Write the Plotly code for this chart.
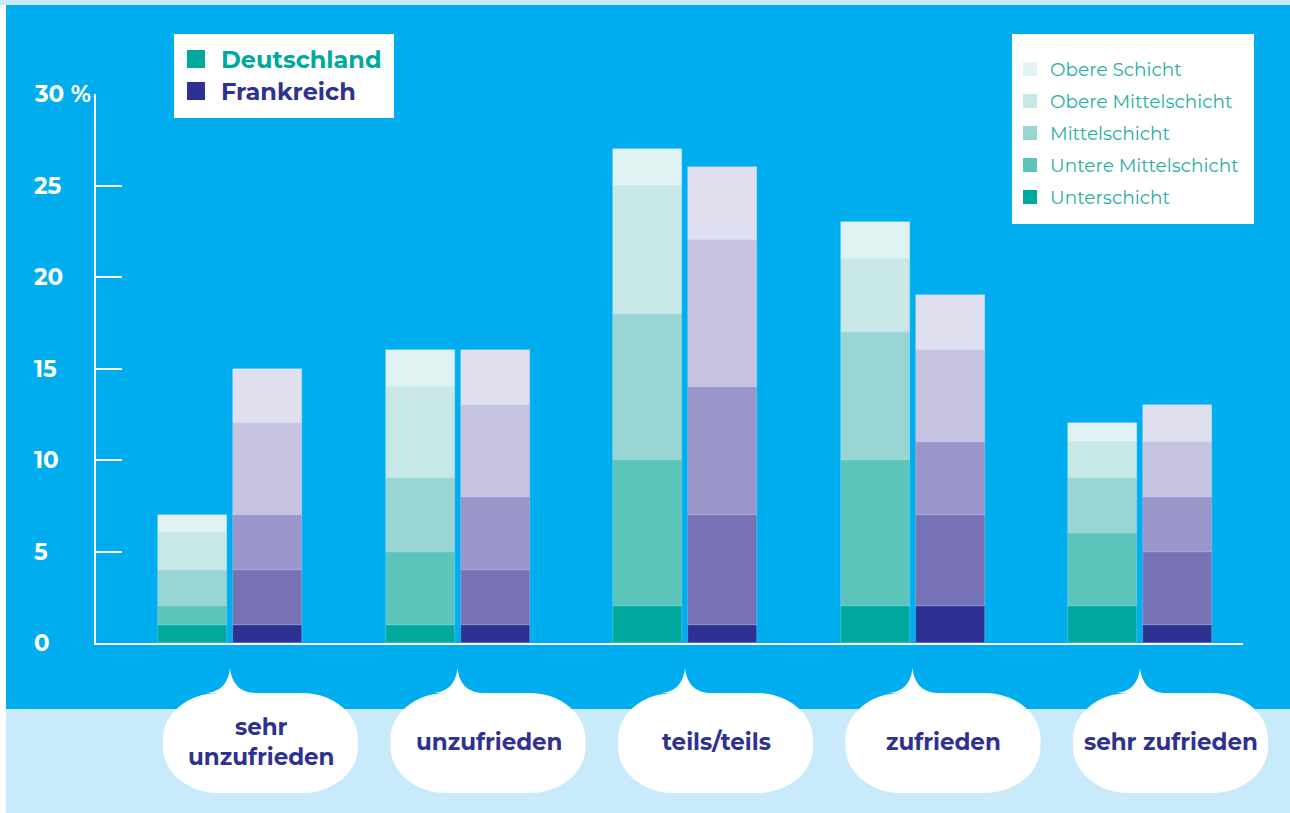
import plotly.graph_objects as go

# ---------------- data ----------------
categories = ["sehr<br>unzufrieden", "unzufrieden", "teils/teils", "zufrieden", "sehr zufrieden"]
classes = ["Unterschicht", "Untere Mittelschicht", "Mittelschicht", "Obere Mittelschicht", "Obere Schicht"]
countries = ["Deutschland", "Frankreich"]

de_unter = [1, 1, 2, 2, 2]
de_untere_mittel = [1, 4, 8, 8, 4]
de_mittel = [2, 4, 8, 7, 3]
de_obere_mittel = [2, 5, 7, 4, 2]
de_obere = [1, 2, 2, 2, 1]

fr_unter = [1, 1, 1, 2, 1]
fr_untere_mittel = [3, 3, 6, 5, 4]
fr_mittel = [3, 4, 7, 4, 3]
fr_obere_mittel = [5, 5, 8, 5, 3]
fr_obere = [3, 3, 4, 3, 2]

y_ticks = [0, 5, 10, 15, 20, 25, 30]
y_tick_labels = ["0", "5", "10", "15", "20", "25", "30 %"]

de_colors = ["#00a99d", "#5bc5bc", "#99d5d3", "#c8e8e7", "#e1f2f2"]
fr_colors = ["#2e3192", "#7672b5", "#9b96c9", "#c6c3e1", "#e0dff0"]
country_colors = ["#00a99d", "#2e3192"]

# ---------------- layout geometry ----------------
W, H = 1290, 813
PX0, PX1, PY0, PY1 = 96, 1243, 94, 643   # plot area in pixels
GROUP_PX = 227.5
XMIN = -(230 - PX0) / GROUP_PX
XMAX = XMIN + (PX1 - PX0) / GROUP_PX
BAR_W = 69 / GROUP_PX
OFF = 37.5 / GROUP_PX

def pxp(x):  # pixel x -> paper
    return (x - PX0) / (PX1 - PX0)

def pyp(y):  # pixel y -> paper
    return (PY1 - y) / (PY1 - PY0)

def dxp(v):  # data x -> paper
    return (v - XMIN) / (XMAX - XMIN)

FONT = "Montserrat, Inter, 'Open Sans', sans-serif"
BLUE = "#00aeef"
LIGHT = "#c8eafa"
NAVY = "#2e3192"

fig = go.Figure()

idx = list(range(len(categories)))
de_series = [de_unter, de_untere_mittel, de_mittel, de_obere_mittel, de_obere]
fr_series = [fr_unter, fr_untere_mittel, fr_mittel, fr_obere_mittel, fr_obere]

for name, vals, col in zip(classes, de_series, de_colors):
    fig.add_trace(go.Bar(
        x=[i - OFF for i in idx], y=vals, width=BAR_W, name=name,
        marker=dict(color=col, line=dict(width=0.6, color="rgba(255,255,255,0.35)")),
        showlegend=False, hovertemplate=name + " (DE): %{y} %<extra></extra>"))
for name, vals, col in zip(classes, fr_series, fr_colors):
    fig.add_trace(go.Bar(
        x=[i + OFF for i in idx], y=vals, width=BAR_W, name=name,
        marker=dict(color=col, line=dict(width=0.6, color="rgba(255,255,255,0.35)")),
        showlegend=False, hovertemplate=name + " (FR): %{y} %<extra></extra>"))

shapes = []
annotations = []

# backgrounds
shapes.append(dict(type="rect", xref="paper", yref="paper", layer="below",
                   x0=pxp(0), x1=pxp(W), y0=pyp(0), y1=pyp(5), fillcolor=LIGHT, line_width=0))
shapes.append(dict(type="rect", xref="paper", yref="paper", layer="below",
                   x0=pxp(6), x1=pxp(W), y0=pyp(5), y1=pyp(709), fillcolor=BLUE, line_width=0))
shapes.append(dict(type="rect", xref="paper", yref="paper", layer="below",
                   x0=pxp(6), x1=pxp(W), y0=pyp(709), y1=pyp(H), fillcolor=LIGHT, line_width=0))

# y tick labels (left aligned)
for v, lab in zip(y_ticks, y_tick_labels):
    annotations.append(dict(x=pxp(32), y=v, xref="paper", yref="y", text=lab,
                            showarrow=False, xanchor="left", yanchor="middle",
                            font=dict(family=FONT, size=23, color="white", weight="bold")))

# category bubbles (pixel geometry relative to the group centre, converted to paper)
def bubble_path(i):
    cp = PX0 + (i - XMIN) * GROUP_PX      # group centre in pixels
    X = lambda px: pxp(px)
    Y = lambda py: pyp(py)
    L, R = cp - 67, cp + 128
    T, B = 693, 793
    rx, ry = 56, 46
    k = 0.5523
    p = []
    p.append(f"M{X(L + rx)},{Y(T)}")
    p.append(f"L{X(cp - 27)},{Y(T)}")
    p.append(f"C{X(cp - 12)},{Y(T)} {X(cp - 2)},{Y(686)} {X(cp)},{Y(668)}")
    p.append(f"C{X(cp + 2)},{Y(686)} {X(cp + 12)},{Y(T)} {X(cp + 27)},{Y(T)}")
    p.append(f"L{X(R - rx)},{Y(T)}")
    p.append(f"C{X(R - rx + k * rx)},{Y(T)} {X(R)},{Y(T + ry - k * ry)} {X(R)},{Y(T + ry)}")
    p.append(f"L{X(R)},{Y(B - ry)}")
    p.append(f"C{X(R)},{Y(B - ry + k * ry)} {X(R - rx + k * rx)},{Y(B)} {X(R - rx)},{Y(B)}")
    p.append(f"L{X(L + rx)},{Y(B)}")
    p.append(f"C{X(L + rx - k * rx)},{Y(B)} {X(L)},{Y(B - ry + k * ry)} {X(L)},{Y(B - ry)}")
    p.append(f"L{X(L)},{Y(T + ry)}")
    p.append(f"C{X(L)},{Y(T + ry - k * ry)} {X(L + rx - k * rx)},{Y(T)} {X(L + rx)},{Y(T)}")
    p.append("Z")
    return " ".join(p)

for i, cat in enumerate(categories):
    shapes.append(dict(type="path", xref="paper", yref="paper", path=bubble_path(i),
                       fillcolor="white", line_width=0, layer="above"))
    annotations.append(dict(x=dxp(i + 31 / GROUP_PX), y=pyp(742), xref="paper", yref="paper",
                            text=cat, showarrow=False, xanchor="center", yanchor="middle",
                            font=dict(family=FONT, size=23, color=NAVY, weight="bold")))

# country legend
shapes.append(dict(type="rect", xref="paper", yref="paper", layer="above",
                   x0=pxp(174), x1=pxp(394), y0=pyp(34), y1=pyp(118), fillcolor="white", line_width=0))
for j, (cn, col) in enumerate(zip(countries, country_colors)):
    yc = 59 + 32 * j
    shapes.append(dict(type="rect", xref="paper", yref="paper", layer="above",
                       x0=pxp(187), x1=pxp(205), y0=pyp(yc - 9), y1=pyp(yc + 9),
                       fillcolor=col, line_width=0))
    annotations.append(dict(x=pxp(219), y=pyp(yc), xref="paper", yref="paper", text=cn,
                            showarrow=False, xanchor="left", yanchor="middle",
                            font=dict(family=FONT, size=24, color=col, weight="bold")))

# class legend
shapes.append(dict(type="rect", xref="paper", yref="paper", layer="above",
                   x0=pxp(1012), x1=pxp(1254), y0=pyp(34), y1=pyp(224), fillcolor="white", line_width=0))
for j, (cl, col) in enumerate(zip(classes[::-1], de_colors[::-1])):
    yc = 69 + 32 * j
    shapes.append(dict(type="rect", xref="paper", yref="paper", layer="above",
                       x0=pxp(1023), x1=pxp(1037), y0=pyp(yc - 7), y1=pyp(yc + 7),
                       fillcolor=col, line_width=0))
    annotations.append(dict(x=pxp(1048), y=pyp(yc), xref="paper", yref="paper", text=cl,
                            showarrow=False, xanchor="left", yanchor="middle",
                            font=dict(family=FONT, size=18.5, color="#2aaea4")))

fig.update_layout(
    width=W, height=H,
    margin=dict(l=PX0, r=W - PX1, t=PY0, b=H - PY1, pad=0),
    paper_bgcolor="white", plot_bgcolor="rgba(0,0,0,0)",
    barmode="relative", bargap=0,
    shapes=shapes, annotations=annotations,
    showlegend=False,
    xaxis=dict(range=[XMIN, XMAX], showgrid=False, zeroline=False, showticklabels=False,
               showline=True, linecolor="white", linewidth=1.5, ticks=""),
    yaxis=dict(range=[0, 30], tickvals=y_ticks, showgrid=False, zeroline=False,
               showticklabels=False, showline=True, linecolor="white", linewidth=1.5,
               ticks="inside", ticklen=26, tickcolor="white", tickwidth=1.5),
)

fig.write_html("out.html", config={"displayModeBar": False},
               post_script="document.body.style.margin='0';document.body.style.overflow='hidden';")
